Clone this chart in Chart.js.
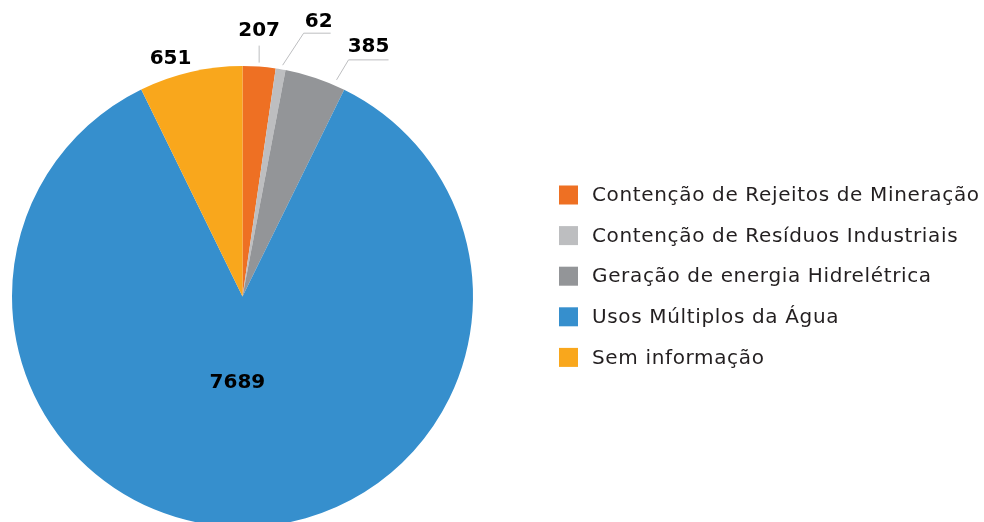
<!DOCTYPE html>
<html>
<head>
<meta charset="utf-8">
<script src="https://cdn.jsdelivr.net/npm/chart.js@4/dist/chart.umd.min.js"></script>
<style>
  html, body { margin: 0; padding: 0; background: #ffffff; overflow: hidden; }
  #wrap { position: relative; width: 984px; height: 522px; overflow: hidden; }
  #box { position: absolute; left: 0; top: 0; width: 984px; height: 540px; }
</style>
</head>
<body>
<div id="wrap"><div id="box"><canvas id="c"></canvas></div></div>
<script>
const categories = [
  "Contenção de Rejeitos de Mineração",
  "Contenção de Resíduos Industriais",
  "Geração de energia Hidrelétrica",
  "Usos Múltiplos da Água",
  "Sem informação"
];
const values = [207, 62, 385, 7689, 651];
const valueLabels = ["207", "62", "385", "7689", "651"];
const colors = ["#EE7023", "#BDBEC0", "#939598", "#368FCD", "#F9A71C"];

// label placement relative to each slice's outer mid-point (styling only)
const labelCfg = [
  { label: [0, -36], line: [[0, -4], [0, -21]] },
  { label: [38, -47], line: [[2, -4], [23, -36], [50, -36]] },
  { label: [53, -31], line: [[21, 2], [33, -18], [73, -18]] },
  { inside: 0.37 },
  { label: [-20, -13] }
];

const labelPlugin = {
  id: 'sliceLabels',
  afterDatasetsDraw(chart) {
    const ctx = chart.ctx;
    const meta = chart.getDatasetMeta(0);
    ctx.save();
    meta.data.forEach((arc, i) => {
      const p = arc.getProps(['x', 'y', 'startAngle', 'endAngle', 'outerRadius'], true);
      const mid = (p.startAngle + p.endAngle) / 2;
      const cfg = labelCfg[i];
      ctx.font = 'bold 20px "DejaVu Sans"';
      ctx.fillStyle = '#000000';
      ctx.textAlign = 'center';
      ctx.textBaseline = 'middle';
      if (cfg.inside) {
        const rr = p.outerRadius * cfg.inside;
        ctx.fillText(valueLabels[i], p.x + Math.cos(mid) * rr - 5, p.y + Math.sin(mid) * rr + 1);
        return;
      }
      const ax = p.x + Math.cos(mid) * p.outerRadius;
      const ay = p.y + Math.sin(mid) * p.outerRadius;
      if (cfg.line) {
        ctx.strokeStyle = '#BDBEC0';
        ctx.lineWidth = 1;
        ctx.beginPath();
        cfg.line.forEach((pt, k) => {
          const x = ax + pt[0], y = ay + pt[1];
          if (k === 0) ctx.moveTo(x, y); else ctx.lineTo(x, y);
        });
        ctx.stroke();
      }
      ctx.fillText(valueLabels[i], ax + cfg.label[0], ay + cfg.label[1]);
    });
    ctx.restore();
  }
};

const legendPlugin = {
  id: 'sideLegend',
  afterDraw(chart) {
    const ctx = chart.ctx;
    ctx.save();
    const x0 = 559, y0 = 195, step = 40.6, sz = 19;
    categories.forEach((name, i) => {
      const y = y0 + i * step;
      ctx.fillStyle = colors[i];
      ctx.fillRect(x0, y - sz / 2, sz, sz);
      ctx.fillStyle = '#231F20';
      ctx.font = '20px "DejaVu Sans"';
      ctx.letterSpacing = '0.65px';
      ctx.textAlign = 'left';
      ctx.textBaseline = 'middle';
      ctx.fillText(name, x0 + 33, y + 1);
    });
    ctx.restore();
  }
};

new Chart(document.getElementById('c'), {
  type: 'pie',
  data: {
    labels: categories,
    datasets: [{
      data: values,
      backgroundColor: colors,
      borderWidth: 0
    }]
  },
  options: {
    responsive: true,
    maintainAspectRatio: false,
    animation: false,
    layout: { padding: { top: 66, left: 12, right: 511, bottom: 13 } },
    plugins: {
      legend: { display: false },
      tooltip: { enabled: false }
    }
  },
  plugins: [labelPlugin, legendPlugin]
});
</script>
</body>
</html>
